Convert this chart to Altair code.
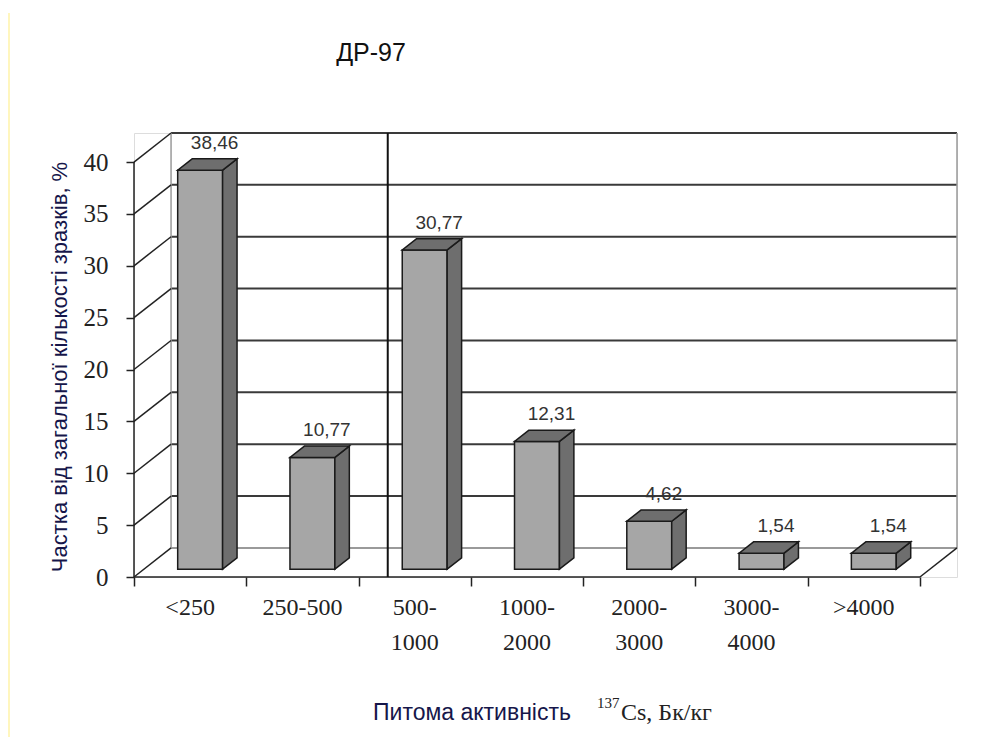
import altair as alt
import pandas as pd

# ---------------- data ----------------
categories = ["<250", "250-500", "500-\n1000", "1000-\n2000", "2000-\n3000", "3000-\n4000", ">4000"]
values = [38.46, 10.77, 30.77, 12.31, 4.62, 1.54, 1.54]
value_labels = ["38,46", "10,77", "30,77", "12,31", "4,62", "1,54", "1,54"]
y_ticks = [0, 5, 10, 15, 20, 25, 30, 35, 40]
separator_pos = 2.26          # vertical marker line between 250-500 and 500-1000

title_text = "ДР-97"
y_title = "Частка від загальної кількості зразків, %"
x_title_main = "Питома активність"
x_title_sup = "137"
x_title_unit = "Cs, Бк/кг"

# ---------------- 3D geometry (in scale units) ----------------
N = len(categories)
DX, DY = 0.33, 2.8        # depth of the box (x in category units, y in value units)
F0, FB = 0.27, 0.39       # bar front position and bar depth as fraction of box depth
BW = 0.40                 # bar width (category units)
XMAX = N + DX
YMAX = 42.8
W, H = 823, 444

x_ticks = list(range(N + 1))

def X(field):
    return alt.X(field, type="quantitative",
                 scale=alt.Scale(domain=[0, XMAX], nice=False, zero=False),
                 axis=alt.Axis(values=x_ticks, labels=False, domain=False, grid=False,
                               tickSize=9, tickWidth=1.5, tickColor="#222", title=None))

def Y(field):
    return alt.Y(field, type="quantitative",
                 scale=alt.Scale(domain=[0, YMAX], nice=False, zero=False),
                 axis=alt.Axis(values=y_ticks, domain=False, grid=False, tickSize=8,
                               tickWidth=1.5, tickColor="#222", labelFont="Liberation Serif",
                               labelFontSize=25, labelColor="#222", labelPadding=18,
                               format="d", title=None))

# back wall gridlines
grid_df = pd.DataFrame({"v": y_ticks})
grid_df["yb"] = grid_df["v"] + DY
grid_df["x1"] = DX
grid_df["x2"] = N + DX
grid_df["xl"] = 0.0
grid_df["col"] = ["#9a9a9a" if v == 0 else "#3a3a3a" for v in y_ticks]

grid = alt.Chart(grid_df).mark_rule(strokeWidth=2).encode(
    x=X("x1"), x2="x2", y=Y("yb"), color=alt.Color("col:N", scale=None))

slants = alt.Chart(grid_df).mark_rule(strokeWidth=1.5, color="#222").encode(
    x=X("xl"), y=Y("v"), x2="x1", y2="yb")

edges_df = pd.DataFrame({"x": [DX, N + DX], "y1": [DY, DY], "y2": [40 + DY, 40 + DY]})
edges = alt.Chart(edges_df).mark_rule(strokeWidth=1.5, color="#9a9a9a").encode(
    x=X("x"), y=Y("y1"), y2="y2")

left_axis_df = pd.DataFrame({"x": [0.0], "y1": [0.0], "y2": [40.0]})
left_axis = alt.Chart(left_axis_df).mark_rule(strokeWidth=1.5, color="#222").encode(
    x=X("x"), y=Y("y1"), y2="y2")

floor_df = pd.DataFrame({"x1": [0.0, float(N)], "x2": [float(N), N + DX],
                         "y1": [0.0, 0.0], "y2": [0.0, DY]})
floor = alt.Chart(floor_df).mark_rule(strokeWidth=1.5, color="#222").encode(
    x=X("x1"), x2="x2", y=Y("y1"), y2="y2")

sep_df = pd.DataFrame({"x": [separator_pos], "y1": [0.0], "y2": [YMAX]})
sep = alt.Chart(sep_df).mark_rule(strokeWidth=2, color="#111").encode(
    x=X("x"), y=Y("y1"), y2="y2")

# bars
front_rows, side_rows, top_rows, lab_rows = [], [], [], []
for i, (c, v, t) in enumerate(zip(categories, values, value_labels)):
    xl = i + 0.5 - BW / 2 + F0 * DX
    xr = xl + BW
    yb = F0 * DY
    yt = v + F0 * DY
    front_rows.append({"cat": c, "x1": xl, "x2": xr, "y1": yb, "y2": yt})
    for s in (0.0, 1.0):
        side_rows.append({"cat": c, "x": xr + s * FB * DX,
                          "ylo": yb + s * FB * DY, "yhi": yt + s * FB * DY})
        top_rows.append({"cat": c, "y": yt + s * FB * DY,
                         "xlo": xl + s * FB * DX, "xhi": xr + s * FB * DX})
    lab_rows.append({"cat": c, "txt": t, "x": i + 0.5 + (F0 + FB) * DX,
                     "y": yt + FB * DY, "xc": i + 0.5})

front = alt.Chart(pd.DataFrame(front_rows)).mark_rect(
    color="#a6a6a6", stroke="#1a1a1a", strokeWidth=1.5).encode(
    x=X("x1"), x2="x2", y=Y("y1"), y2="y2")

side = alt.Chart(pd.DataFrame(side_rows)).mark_area(
    orient="vertical", color="#6e6e6e", stroke="#1a1a1a", strokeWidth=1.5,
    opacity=1).encode(x=X("x"), y=Y("ylo"), y2="yhi", detail="cat:N")

top = alt.Chart(pd.DataFrame(top_rows)).mark_area(
    orient="horizontal", color="#6e6e6e", stroke="#1a1a1a", strokeWidth=1.5,
    opacity=1).encode(y=Y("y"), x=X("xlo"), x2="xhi", detail="cat:N")

lab_df = pd.DataFrame(lab_rows)
vlabels = alt.Chart(lab_df).mark_text(
    font="Liberation Sans", fontSize=19, color="#333", baseline="alphabetic",
    dy=-10).encode(x=X("x"), y=Y("y"), text="txt:N")

catlabels = alt.Chart(lab_df).mark_text(
    font="Liberation Serif", fontSize=24, color="#222", baseline="top",
    lineBreak="\n", lineHeight=35, align="center").encode(
    x=X("xc"), y=alt.value(H + 19), text="cat:N")

# titles / annotations
ann_df = pd.DataFrame({"t": [title_text]})
title = alt.Chart(ann_df).mark_text(
    font="Liberation Sans", fontSize=25, color="#111", align="center",
    baseline="alphabetic").encode(x=alt.value(237), y=alt.value(-72), text="t:N")

ytitle = alt.Chart(pd.DataFrame({"t": [y_title]})).mark_text(
    font="Liberation Sans", fontSize=22, color="#16164a", align="center",
    baseline="middle", angle=270).encode(x=alt.value(-74), y=alt.value(234), text="t:N")

xt1 = alt.Chart(pd.DataFrame({"t": [x_title_main]})).mark_text(
    font="Liberation Sans", fontSize=23, color="#16164a", align="left",
    baseline="alphabetic").encode(x=alt.value(239), y=alt.value(587), text="t:N")
xt2 = alt.Chart(pd.DataFrame({"t": [x_title_sup]})).mark_text(
    font="Liberation Serif", fontSize=15, color="#222", align="left",
    baseline="alphabetic").encode(x=alt.value(463), y=alt.value(575), text="t:N")
xt3 = alt.Chart(pd.DataFrame({"t": [x_title_unit]})).mark_text(
    font="Liberation Serif", fontSize=24, color="#222", align="left",
    baseline="alphabetic").encode(x=alt.value(487), y=alt.value(587), text="t:N")

border = alt.Chart(pd.DataFrame({"a": [0]})).mark_rule(
    color="#fff3a8", strokeWidth=1.5).encode(
    x=alt.value(-125), y=alt.value(-120), y2=alt.value(610))

chart = alt.layer(
    border, grid, edges, slants, left_axis, floor, sep,
    front, side, top, vlabels, catlabels, title, ytitle, xt1, xt2, xt3
).properties(
    width=W, height=H,
    autosize=alt.AutoSizeParams(type="none"),
    padding={"left": 126, "top": 125, "right": 20, "bottom": 160},
).configure_view(stroke=None).configure(background="white")

chart.save("out.html", embed_options={"renderer": "svg", "actions": False})
